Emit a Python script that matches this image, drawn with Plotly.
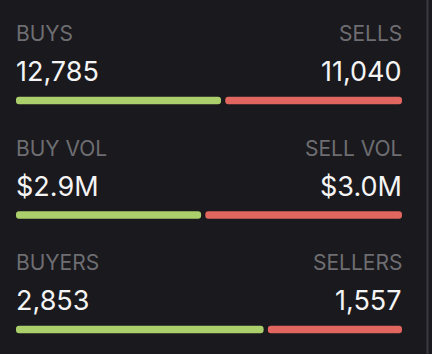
import plotly.graph_objects as go

left_labels = ["BUYS", "BUY VOL", "BUYERS"]
right_labels = ["SELLS", "SELL VOL", "SELLERS"]
left_values = [12785, 2.9, 2853]
right_values = [11040, 3.0, 1557]
left_text = ["12,785", "$2.9M", "2,853"]
right_text = ["11,040", "$3.0M", "1,557"]
# buy shares (buy vol uses unrounded estimate)
buy_share = [12785 / (12785 + 11040), 0.485, 2853 / (2853 + 1557)]

BG = "#1a191e"
GREEN = "#abd06b"
RED = "#e1665f"
GRAY = "#6e6e72"
WHITE = "#f4f4f4"
FONT = "Inter"

W, H = 432, 354
gap = 0.011

fig = go.Figure()
rows = list(range(len(left_labels)))
fig.add_trace(go.Bar(
    y=rows, x=[s - gap / 2 for s in buy_share], base=[0] * 3,
    orientation="h", marker=dict(color=GREEN, cornerradius=4, line_width=0),
    width=0.066, hoverinfo="skip"))
fig.add_trace(go.Bar(
    y=rows, x=[1 - s - gap / 2 for s in buy_share], base=[s + gap / 2 for s in buy_share],
    orientation="h", marker=dict(color=RED, cornerradius=4, line_width=0),
    width=0.066, hoverinfo="skip"))

ann = []
for i in rows:
    ann.append(dict(x=0, y=i - 0.585, xref="x", yref="y", text=left_labels[i], showarrow=False,
                    xanchor="left", yanchor="middle", font=dict(family=FONT, size=21, color=GRAY), xshift=-2))
    ann.append(dict(x=1, y=i - 0.585, xref="x", yref="y", text=right_labels[i], showarrow=False,
                    xanchor="right", yanchor="middle", font=dict(family=FONT, size=21, color=GRAY), xshift=2))
    ann.append(dict(x=0, y=i - 0.252, xref="x", yref="y", text=left_text[i], showarrow=False,
                    xanchor="left", yanchor="middle", font=dict(family=FONT, size=27, color=WHITE), xshift=-2))
    ann.append(dict(x=1, y=i - 0.252, xref="x", yref="y", text=right_text[i], showarrow=False,
                    xanchor="right", yanchor="middle", font=dict(family=FONT, size=27, color=WHITE), xshift=2))

fig.update_layout(
    width=W, height=H, margin=dict(l=0, r=0, t=0, b=0),
    paper_bgcolor=BG, plot_bgcolor=BG, showlegend=False, barmode="overlay",
    annotations=ann,
    shapes=[dict(type="line", xref="paper", yref="paper", x0=427.5 / W, x1=427.5 / W, y0=0, y1=1,
                 line=dict(color="#3a3a40", width=2))],
    xaxis=dict(range=[0, 1], domain=[16 / W, 402 / W], visible=False, fixedrange=True),
    yaxis=dict(range=[(H - 100.5) / 114.5, -100.5 / 114.5], visible=False, fixedrange=True),
)
fig.write_html("out.html", config={"displayModeBar": False})
